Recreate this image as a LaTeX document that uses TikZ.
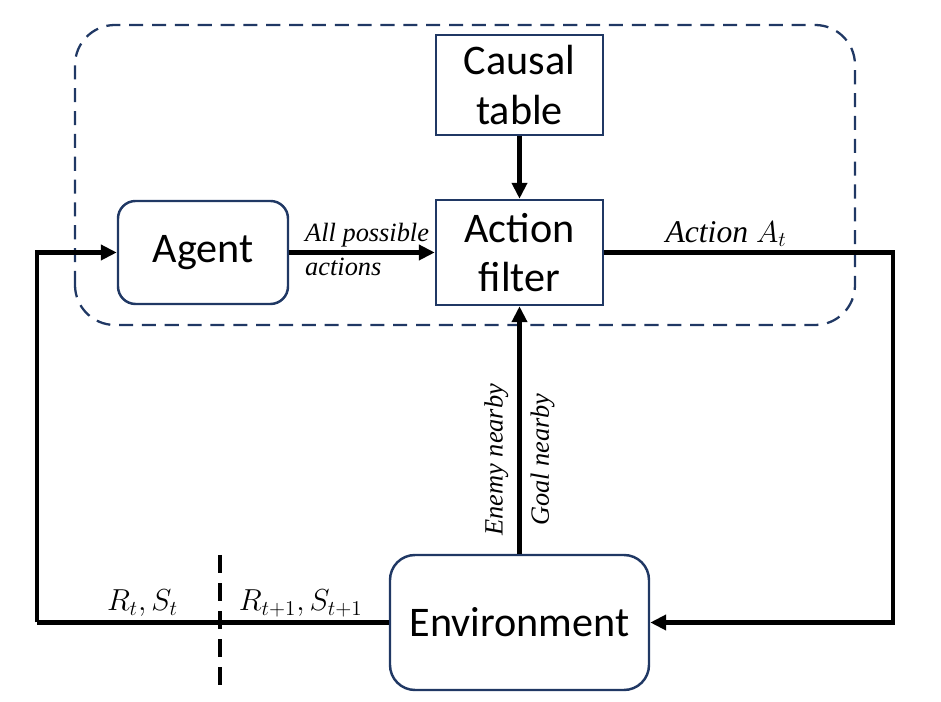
\documentclass[tikz,border=0pt]{standalone}
\usepackage{fontspec}
\setmainfont{Carlito}
\newfontfamily\lblfont{Liberation Serif}
\usepackage{tikz}
\usetikzlibrary{arrows.meta}
\definecolor{navy}{HTML}{203864}

\tikzset{
    block/.style={draw=navy, line width=1.4pt, fill=white, align=center, font=\fontsize{24}{28}\selectfont},
    roundblock/.style={block, rounded corners=0.35cm},
    flow/.style={line width=2.6pt, -{Triangle[length=0.32cm, width=0.3cm]}},
    wire/.style={line width=2.6pt},
    lbl/.style={font=\lblfont\itshape\fontsize{15}{18}\selectfont, inner sep=2pt},
    mathlbl/.style={lbl, font=\lblfont\itshape\fontsize{18}{21}\selectfont}
}

\begin{document}
\begin{tikzpicture}

\useasboundingbox (0,0) rectangle (18.82,14.04);

% Dashed frame around the agent side
\draw[navy, line width=1.3pt, dash pattern=on 8pt off 5pt, rounded corners=0.8cm]
    (1.5,7.54) rectangle (17.1,13.54);

% Boxes
\node[block, minimum width=3.34cm, minimum height=2.0cm] (causal) at (10.39,12.34) {Causal\\table};
\node[block, minimum width=3.34cm, minimum height=2.1cm] (filter) at (10.39,8.99) {Action\\filter};
\node[roundblock, minimum width=3.4cm, minimum height=2.06cm] (agent) at (4.06,8.99) {Agent};
\node[roundblock, rounded corners=0.5cm, minimum width=5.18cm, minimum height=2.7cm] (env) at (10.39,1.59) {Environment};

% Corner points of the loop
\coordinate (rightTop) at (17.86,8.99);
\coordinate (leftBot) at (0.74,1.59);
\coordinate (cutTop) at (4.4,2.94);
\coordinate (cutBot) at (4.4,0.24);

% Connections inside the frame
\draw[flow] (causal) -- (filter);
\draw[flow] (agent) -- (filter)
    node[lbl, pos=0.07, anchor=south west] {All possible}
    node[lbl, pos=0.07, anchor=north west] {actions};

% Action goes out to the environment
\draw[flow] (filter.east) -- node[mathlbl, above, xshift=-0.45cm] {Action $A_t$} (rightTop) |- (env.east);

% Observations back to the filter
\draw[flow] (env) -- (filter)
    node[lbl, pos=0.38, sloped, above, inner sep=5pt] {Enemy nearby}
    node[lbl, pos=0.38, sloped, below, inner sep=5pt] {Goal nearby};

% Reward and state back to the agent
\draw[wire] (env.west) -- node[mathlbl, pos=0.25, above] {$R_{t+1}, S_{t+1}$}
    node[mathlbl, pos=0.7, above] {$R_t, S_t$} (leftBot);
\draw[flow] (leftBot) |- (agent.west);

% Time step cut
\draw[line width=1.8pt, dash pattern=on 10pt off 6pt] (cutTop) -- (cutBot);

\end{tikzpicture}
\end{document}
